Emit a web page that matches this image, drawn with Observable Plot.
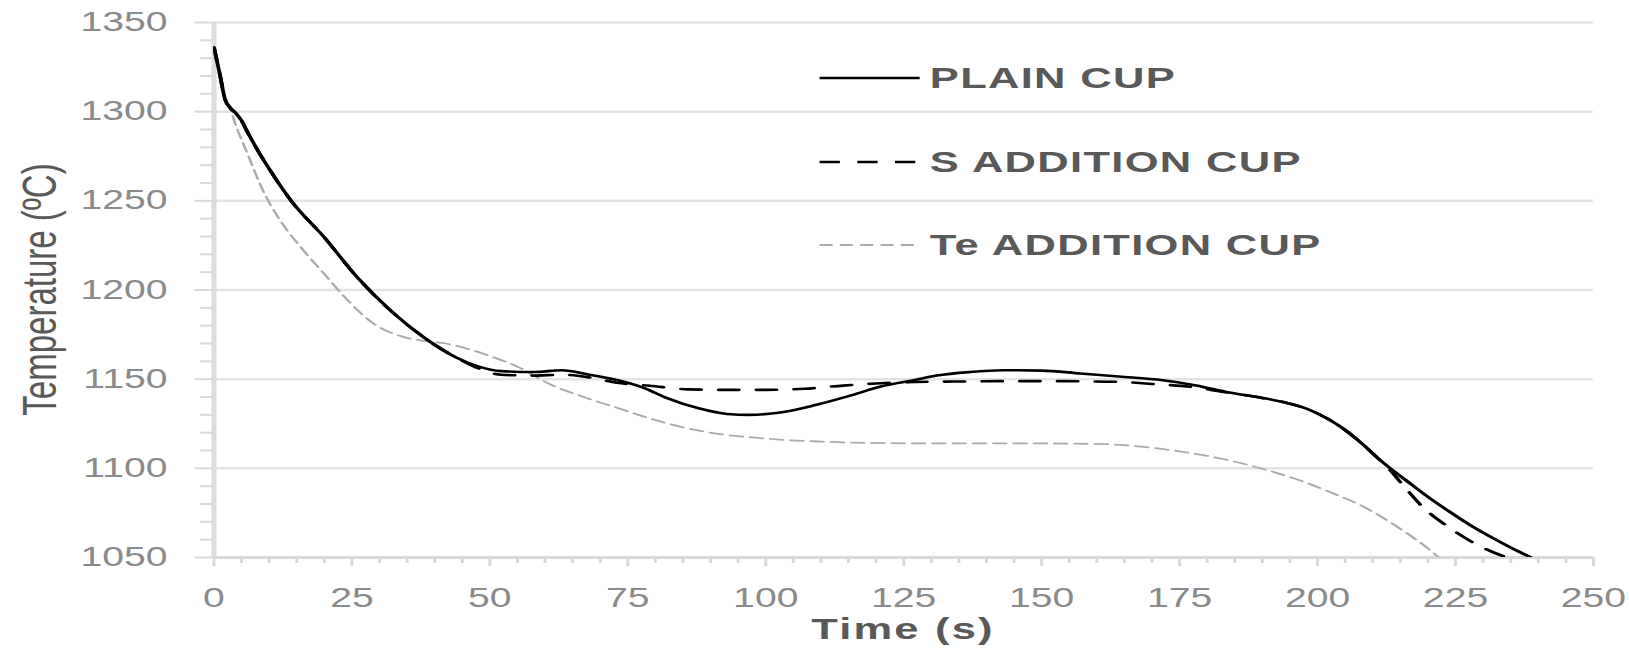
<!DOCTYPE html>
<html>
<head>
<meta charset="utf-8">
<script src="https://cdn.jsdelivr.net/npm/d3@7"></script>
<script src="https://cdn.jsdelivr.net/npm/@observablehq/plot@0.6"></script>
<style>
  html, body { margin: 0; padding: 0; background: #fff; overflow: hidden; }
  #chart svg { display: block; }
</style>
</head>
<body>
<div id="chart"></div>
<script>
// ---------------- data ----------------
const seriesNames = ["PLAIN CUP", "S ADDITION CUP", "Te ADDITION CUP"];

const xTickLabels = [0, 25, 50, 75, 100, 125, 150, 175, 200, 225, 250];
const yTickLabels = [1050, 1100, 1150, 1200, 1250, 1300, 1350];

const plainTime = [0,1,2,3,4,5,6,8,10,14,20,26,32,38,44,48,52,58,63,68,73,78,82,88,93,97,103,109,115,121,127,131,137,143,150,157,164,172,178,184,190,194,198,202,205,208,211,214,217,220,224,228,232,236,238.7];
const plainTemp = [1336,1322,1307,1302,1299,1295,1289,1278,1268,1250,1229.5,1207,1188.5,1173.5,1162,1157,1154.5,1154,1155,1152.5,1149.5,1145,1139.5,1133.5,1130.5,1130,1131.5,1135.5,1140.5,1146,1149.5,1152,1154,1155,1154.8,1153.2,1151.5,1149.4,1146.5,1142.5,1139.5,1137,1133.5,1127.5,1121.5,1114,1105.5,1098,1091,1084,1075.5,1067.5,1060.5,1054,1050];

const sTime = [0,1,2,3,4,5,6,8,10,14,20,26,32,38,44,48,52,58,63,68,73,79,86,93,100,107,114,120,125,131,137,143,150,157,164,170,177,183,190,194,198,202,205,208,211,213,215.5,219,224,229,234.3];
const sTemp = [1336,1322,1307,1302,1299,1295,1289,1278,1268,1250,1229.5,1207,1188.5,1173.5,1162,1156,1152.5,1152,1152.5,1151,1148,1146.3,1144.3,1144,1144,1144.6,1146.4,1147.6,1148.3,1148.6,1148.7,1148.9,1148.9,1148.8,1148.5,1147.3,1145.7,1142.8,1139.5,1137,1133.5,1127.5,1121.5,1114,1105.5,1099.5,1090.5,1078.5,1066.5,1057,1050];

const teTime = [0,1,2,3,4,6,9,12,16,20,24,29,34,38,42,46,50,55,61,67,73,79,85,91,97,103,110,118,130,145,160,165,170,175,180,186,192,197,202,208,212,216,219,222];
const teTemp = [1336,1322,1307,1301,1292,1277,1255,1239,1223,1209,1195,1181,1174,1171.5,1170,1167,1163,1157,1147,1140,1134,1128,1123,1119.5,1117.5,1116,1115,1114.3,1114,1114,1113.7,1113,1111.5,1109.5,1107,1103,1098,1093,1087,1079,1072,1064,1057.5,1050];

// ---------------- styles ----------------
const seriesStyles = [
  {stroke: "#000000", strokeWidth: 2.6, dash: null},
  {stroke: "#000000", strokeWidth: 2.6, dash: "14,12"},
  {stroke: "#ababab", strokeWidth: 1.8, dash: "9,5"}
];
const FONT = "'Liberation Sans', Arial, sans-serif";

const W = 1123, H = 648, REAL_W = 1629;
const mL = 147, mR = 25, mT = 22, mB = 91;

const rows = (ts, vs, name) => ts.map((t, i) => ({time: t, temp: vs[i], series: name}));
const plainRows = rows(plainTime, plainTemp, seriesNames[0]);
const sRows = rows(sTime, sTemp, seriesNames[1]);
const teRows = rows(teTime, teTemp, seriesNames[2]);
const yMinor = d3.range(1060, 1350, 10).filter(v => v % 50 !== 0);
const xMinor = d3.range(5, 250, 5).filter(v => v % 25 !== 0);
const fmt = d => `${d}`;

const lineOpts = (i) => ({
  x: "time", y: "temp", stroke: seriesStyles[i].stroke, strokeWidth: seriesStyles[i].strokeWidth,
  strokeDasharray: seriesStyles[i].dash, curve: "monotone-x", clip: true
});

const plot = Plot.plot({
  width: W, height: H,
  marginLeft: mL, marginRight: mR, marginTop: mT, marginBottom: mB,
  style: {background: "#fff", fontFamily: FONT, overflow: "visible"},
  x: {domain: [0, 250]},
  y: {domain: [1050, 1350]},
  marks: [
    Plot.gridY(yTickLabels, {stroke: "#e3e3e3", strokeOpacity: 1, strokeWidth: 2.5}),
    Plot.axisY(yMinor, {tickSize: 9, tickFormat: () => "", stroke: "#d9d9d9", strokeWidth: 2, fill: "none", label: null}),
    Plot.axisY(yTickLabels, {tickSize: 13, tickPadding: 19, tickFormat: fmt, stroke: "#d9d9d9", strokeWidth: 2, fill: "#8a8a8a", fontSize: 27, label: null}),
    Plot.axisX(xMinor, {tickSize: 6, tickFormat: () => "", stroke: "#d9d9d9", strokeWidth: 2, fill: "none", label: null}),
    Plot.axisX(xTickLabels, {tickSize: 9, tickPadding: 21, tickFormat: fmt, stroke: "#d9d9d9", strokeWidth: 2, fill: "#8a8a8a", fontSize: 27, label: null}),
    Plot.ruleY([1050], {stroke: "#d9d9d9", strokeWidth: 3}),
    Plot.ruleX([0], {stroke: "#dcdcdc", strokeWidth: 3.5}),
    Plot.line(teRows, lineOpts(2)),
    Plot.line(sRows, lineOpts(1)),
    Plot.line(plainRows, lineOpts(0))
  ]
});

// ---------------- titles & legend ----------------
const svg = d3.select(plot);
const plotCx = (mL + (W - mR)) / 2;
const plotCy = (mT + (H - mB)) / 2;

svg.append("text")
  .attr("transform", `translate(27.6,${plotCy}) rotate(-90)`)
  .attr("text-anchor", "middle")
  .attr("dominant-baseline", "central")
  .attr("fill", "#595959")
  .attr("font-size", 33)
  .attr("font-family", FONT)
  .text("Temperature (ºC)");

svg.append("text")
  .attr("x", plotCx).attr("y", 639)
  .attr("text-anchor", "middle")
  .attr("fill", "#595959")
  .attr("font-size", 30)
  .attr("font-weight", 700)
  .attr("letter-spacing", 1.5)
  .attr("font-family", FONT)
  .text("Time (s)");

const legendX = 565, legendLineLen = 69, legendRowsY = [78, 162, 245];
const lg = svg.append("g");
seriesNames.forEach((name, i) => {
  const st = seriesStyles[i];
  const g = lg.append("g").attr("transform", `translate(${legendX},${legendRowsY[i]})`);
  g.append("line")
    .attr("x1", 0).attr("x2", legendLineLen).attr("y1", 0).attr("y2", 0)
    .attr("stroke", st.stroke).attr("stroke-width", st.strokeWidth)
    .attr("stroke-dasharray", st.dash);
  g.append("text")
    .attr("x", legendLineLen + 7).attr("y", 0)
    .attr("text-anchor", "start")
    .attr("dominant-baseline", "central")
    .attr("fill", "#595959")
    .attr("font-size", 30)
    .attr("letter-spacing", 0.9)
    .attr("font-weight", 700)
    .attr("font-family", FONT)
    .text(name);
});

// stretch horizontally like the source image
plot.setAttribute("preserveAspectRatio", "none");
plot.setAttribute("width", REAL_W);
plot.setAttribute("height", H);
plot.style.width = REAL_W + "px";
plot.style.height = H + "px";
plot.style.maxWidth = "none";

document.getElementById("chart").appendChild(plot);
</script>
</body>
</html>
